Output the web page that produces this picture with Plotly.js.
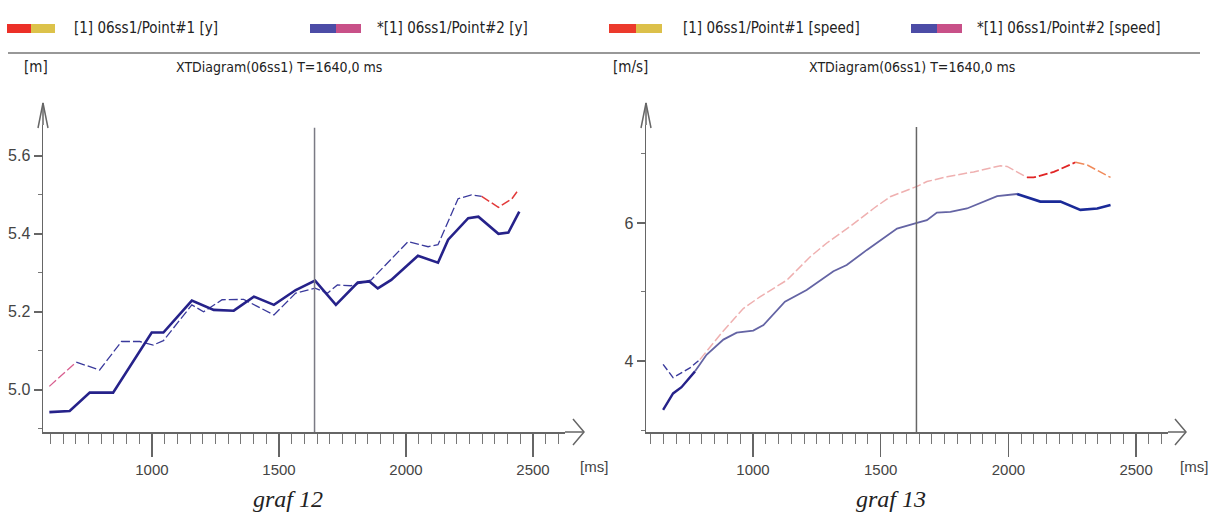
<!DOCTYPE html>
<html>
<head>
<meta charset="utf-8">
<script src="https://cdn.plot.ly/plotly-3.0.1.min.js"></script>
<style>html,body{margin:0;padding:0;background:#fff}#chart{width:1212px;height:518px}</style>
</head>
<body>
<div id="chart"></div>
<script>
// ---- data ----
const cursorTime = 1640;

// graf 12 : position y [m]
const p1yTime = [596, 702, 794, 880, 952, 1005, 1045, 1157, 1203, 1276, 1361, 1480, 1566, 1642, 1691, 1730, 1783, 1863, 2008, 2087, 2126, 2205, 2258, 2298, 2364, 2417, 2437];
const p1yValue = [5.009, 5.071, 5.051, 5.124, 5.124, 5.115, 5.126, 5.218, 5.200, 5.231, 5.232, 5.192, 5.248, 5.261, 5.248, 5.269, 5.267, 5.282, 5.380, 5.367, 5.372, 5.490, 5.500, 5.496, 5.468, 5.490, 5.508];
const p2yTime = [596, 676, 755, 847, 999, 1045, 1157, 1243, 1322, 1401, 1480, 1566, 1642, 1724, 1810, 1856, 1889, 1942, 2047, 2126, 2166, 2245, 2285, 2364, 2403, 2430, 2446];
const p2yValue = [4.943, 4.946, 4.993, 4.993, 5.147, 5.147, 5.229, 5.205, 5.203, 5.239, 5.218, 5.256, 5.280, 5.218, 5.275, 5.278, 5.260, 5.282, 5.344, 5.326, 5.385, 5.440, 5.444, 5.400, 5.403, 5.436, 5.457];

// graf 13 : speed [m/s]
const p1sTime = [648, 687, 753, 792, 880, 962, 1027, 1132, 1224, 1289, 1380, 1472, 1537, 1642, 1681, 1760, 1864, 1969, 1995, 2073, 2099, 2178, 2263, 2309, 2400];
const p1sValue = [3.95, 3.76, 3.90, 4.02, 4.42, 4.76, 4.93, 5.17, 5.51, 5.71, 5.95, 6.21, 6.38, 6.53, 6.60, 6.67, 6.74, 6.83, 6.82, 6.66, 6.66, 6.74, 6.88, 6.84, 6.66];
const p2sTime = [648, 687, 720, 773, 818, 884, 936, 1001, 1041, 1125, 1210, 1315, 1367, 1446, 1511, 1564, 1642, 1681, 1720, 1773, 1838, 1890, 1956, 2034, 2125, 2204, 2282, 2348, 2400];
const p2sValue = [3.29, 3.53, 3.62, 3.85, 4.09, 4.31, 4.41, 4.44, 4.52, 4.86, 5.03, 5.30, 5.39, 5.61, 5.78, 5.92, 6.00, 6.04, 6.15, 6.16, 6.21, 6.29, 6.39, 6.42, 6.31, 6.31, 6.19, 6.21, 6.26];

const legendY = ['[1] 06ss1/Point#1 [y]', '*[1] 06ss1/Point#2 [y]'];
const legendS = ['[1] 06ss1/Point#1 [speed]', '*[1] 06ss1/Point#2 [speed]'];
const unitY = '[m]', unitS = '[m/s]', unitX = '[ms]';
const chartTitle = 'XTDiagram(06ss1) T=' + cursorTime + ',0 ms';
const captions = ['graf 12', 'graf 13'];

// ---- helpers ----
const W = 1212, H = 518;
const fx = v => v / W;
const fy = v => 1 - v / H;
function seg(t, v, lo, hi) {
  const x = [], y = [];
  t.forEach((tt, i) => { if (tt >= lo && tt <= hi) { x.push(tt); y.push(v[i]); } });
  return {x, y};
}
const NARROW = '"Liberation Sans Narrow","Arial Narrow","DejaVu Sans Condensed",sans-serif';
const SANS = '"Liberation Sans",Arial,sans-serif';

function line(d, xa, ya, color, width, dash) {
  return {x: d.x, y: d.y, xaxis: xa, yaxis: ya, type: 'scatter', mode: 'lines',
    line: {color: color, width: width, dash: dash || 'solid'}, hoverinfo: 'skip', showlegend: false};
}

const traces = [
  line(seg(p1yTime, p1yValue, 0, 702), 'x', 'y', '#d86090', 1.3, '9px,3px'),
  line(seg(p1yTime, p1yValue, 702, 2298), 'x', 'y', '#3a3a9c', 1.3, '9px,3px'),
  line(seg(p1yTime, p1yValue, 2298, 9999), 'x', 'y', '#e23a3a', 1.5, '9px,3px'),
  line(seg(p2yTime, p2yValue, 0, 9999), 'x', 'y', '#26228a', 2.6),
  line(seg(p1sTime, p1sValue, 0, 792), 'x2', 'y2', '#3a3a9c', 1.4, '7px,3px'),
  line(seg(p1sTime, p1sValue, 792, 2073), 'x2', 'y2', '#efb0b0', 1.5, '9px,3px'),
  line(seg(p1sTime, p1sValue, 2073, 2263), 'x2', 'y2', '#e02424', 1.8, '9px,3px'),
  line(seg(p1sTime, p1sValue, 2263, 9999), 'x2', 'y2', '#f08a5a', 1.5, '9px,3px'),
  line(seg(p2sTime, p2sValue, 0, 773), 'x2', 'y2', '#26228a', 2.4),
  line(seg(p2sTime, p2sValue, 773, 2034), 'x2', 'y2', '#6464a4', 1.8),
  line(seg(p2sTime, p2sValue, 2034, 9999), 'x2', 'y2', '#1a2a98', 2.6)
];

const axisCommon = {
  showline: true, linecolor: '#666', linewidth: 1.5, showgrid: false, zeroline: false,
  ticks: 'outside', tickcolor: '#666', tickwidth: 1.5,
  tickfont: {family: SANS, size: 15, color: '#444'}, fixedrange: true
};
const xCommon = Object.assign({}, axisCommon, {
  tick0: 0, dtick: 500, ticklen: 23, tickformat: 'd',
  minor: {dtick: 50, ticklen: 10, ticks: 'outside', tickcolor: '#777', tickwidth: 1}
});

const layout = {
  width: W, height: H, margin: {l: 0, r: 0, t: 0, b: 0},
  paper_bgcolor: '#fff', plot_bgcolor: '#fff', showlegend: false,
  xaxis: Object.assign({}, xCommon, {domain: [fx(43), fx(565)], range: [571, 2626], anchor: 'y'}),
  yaxis: Object.assign({}, axisCommon, {domain: [fy(432), fy(125)], range: [4.892, 5.679], anchor: 'x',
    tick0: 5, dtick: 0.2, tickformat: '.1f', ticklen: 8,
    tickfont: {family: SANS, size: 16, color: '#444'},
    minor: {dtick: 0.1, ticklen: 4, ticks: 'outside', tickcolor: '#777', tickwidth: 1}}),
  xaxis2: Object.assign({}, xCommon, {domain: [fx(646), fx(1168)], range: [581, 2625], anchor: 'y2'}),
  yaxis2: Object.assign({}, axisCommon, {domain: [fy(432), fy(125)], range: [2.971, 7.42], anchor: 'x2',
    tick0: 0, dtick: 2, tickformat: 'd', ticklen: 8,
    tickfont: {family: SANS, size: 16, color: '#444'},
    minor: {dtick: 1, ticklen: 4, ticks: 'outside', tickcolor: '#777', tickwidth: 1}}),
  shapes: [],
  annotations: []
};

function pline(x0, y0, x1, y1, color, width) {
  layout.shapes.push({type: 'line', xref: 'paper', yref: 'paper', x0: fx(x0), y0: fy(y0), x1: fx(x1), y1: fy(y1),
    line: {color: color, width: width}});
}
function ppath(pts, color, width) {
  const p = pts.map((q, i) => (i ? 'L' : 'M') + fx(q[0]) + ',' + fy(q[1])).join(' ');
  layout.shapes.push({type: 'path', xref: 'paper', yref: 'paper', path: p, line: {color: color, width: width}});
}
function prect(x0, x1, y0, y1, color) {
  layout.shapes.push({type: 'rect', xref: 'paper', yref: 'paper', x0: fx(x0), x1: fx(x1), y0: fy(y1), y1: fy(y0),
    fillcolor: color, line: {width: 0}});
}
function ptext(text, x, y, xanchor, font) {
  layout.annotations.push({text: text, xref: 'paper', yref: 'paper', x: fx(x), y: fy(y), xanchor: xanchor,
    yanchor: 'middle', showarrow: false, font: font});
}

// header separator
pline(8, 53, 1200, 53, '#333', 1.2);

// legend swatches + texts
const legFont = {family: NARROW, size: 15, color: '#222'};
const titleFont = {family: NARROW, size: 14, color: '#222'};
prect(7, 31, 24, 33, '#ec3028'); prect(31, 55, 24, 33, '#dcc24a');
prect(310, 336, 24, 33, '#4c4ca6'); prect(336, 361, 24, 33, '#c85088');
prect(609, 636, 24, 33, '#ec3a2c'); prect(636, 662, 24, 33, '#dcc04a');
prect(911, 937, 24, 33, '#4c4ca6'); prect(937, 962, 24, 33, '#c85088');
ptext(legendY[0], 72, 28, 'left', legFont);
ptext(legendY[1], 375, 28, 'left', legFont);
ptext(legendS[0], 681, 28, 'left', legFont);
ptext(legendS[1], 975, 28, 'left', legFont);

// units + titles
ptext(unitY, 22, 67, 'left', legFont);
ptext(chartTitle, 279, 67, 'center', titleFont);
ptext(unitS, 611, 67, 'left', legFont);
ptext(chartTitle, 912, 67, 'center', titleFont);

// x units and captions
const tickFont = {family: SANS, size: 15, color: '#444'};
ptext(unitX, 594, 466, 'center', tickFont);
ptext(unitX, 1194, 466, 'center', tickFont);
const capFont = {family: '"Liberation Serif","DejaVu Serif",serif', size: 24, color: '#222', style: 'italic'};
ptext('<i>' + captions[0] + '</i>', 288, 499, 'center', capFont);
ptext('<i>' + captions[1] + '</i>', 891, 499, 'center', capFont);

// axis arrow extensions
const ac = '#666';
pline(565, 432, 584, 432, ac, 1.5); ppath([[573, 419], [584, 432], [573, 445]], ac, 1.5);
pline(43, 125, 43, 103, ac, 1.5); ppath([[38, 128], [43, 103], [48, 128]], ac, 1.5);
pline(1168, 432, 1186, 432, ac, 1.5); ppath([[1175, 419], [1186, 432], [1175, 445]], ac, 1.5);
pline(646, 125, 646, 103, ac, 1.5); ppath([[641, 128], [646, 103], [651, 128]], ac, 1.5);

// cursor lines at T
layout.shapes.push({type: 'line', xref: 'x', yref: 'y', x0: cursorTime, x1: cursorTime, y0: 4.892, y1: 5.672,
  line: {color: '#7a7a84', width: 1.5}});
layout.shapes.push({type: 'line', xref: 'x2', yref: 'y2', x0: cursorTime, x1: cursorTime, y0: 2.971, y1: 7.39,
  line: {color: '#666', width: 1.5}});

Plotly.newPlot('chart', traces, layout, {staticPlot: true, displayModeBar: false});
</script>
</body>
</html>
